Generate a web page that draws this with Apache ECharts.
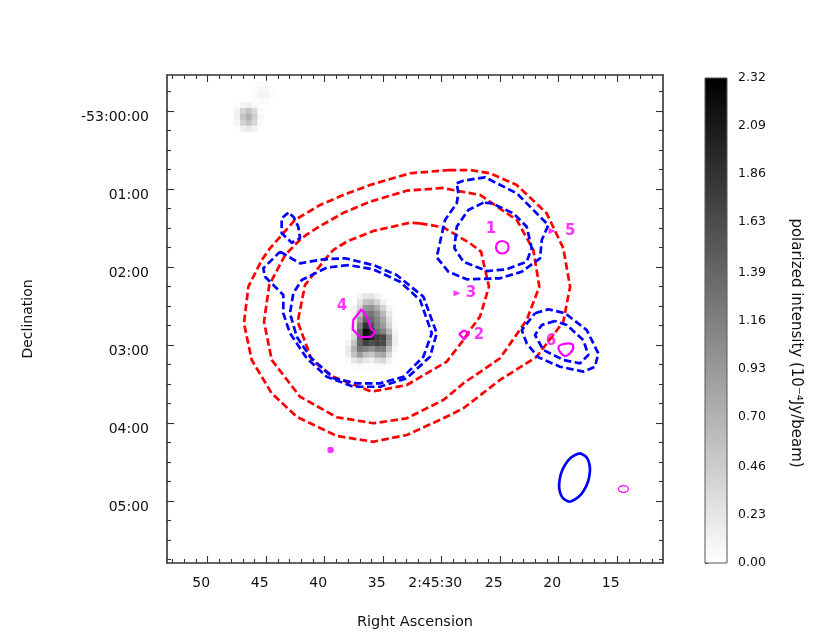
<!DOCTYPE html>
<html lang="en">
<head>
    <meta charset="UTF-8">
    <title>polarized intensity</title>
    <script src="https://cdn.jsdelivr.net/npm/echarts@6/dist/echarts.min.js"></script>
</head>
<body style="margin:0;background:#fff">
<div id="main" style="width:830px;height:640px"></div>
<script type="text/javascript">
    // x is the RA seconds past 2:45:00, y is arcsec south of -53:00:00
    var raTicks = [50, 45, 40, 35, 30, 25, 20, 15];
    var raLabels = ['50', '45', '40', '35', '2:45:30', '25', '20', '15'];
    var raMinorTicks = [53, 52, 51, 49, 48, 47, 46, 44, 43, 42, 41, 39, 38, 37, 36, 34, 33, 32, 31, 29, 28, 27, 26, 24, 23, 22, 21, 19, 18, 17, 16, 14, 13, 12];
    var decTicks = [0, 60, 120, 180, 240, 300];
    var decLabels = ['-53:00:00', '01:00', '02:00', '03:00', '04:00', '05:00'];
    var decMinorTicks = [-15, 15, 30, 45, 75, 90, 105, 135, 150, 165, 195, 210, 225, 255, 270, 285, 315, 330, 345];
    var barTicks = [0, 0.23, 0.46, 0.70, 0.93, 1.16, 1.39, 1.63, 1.86, 2.09, 2.32];
    var barRange = [[0, 2.32]];

    // grey image, three patches
    var coreRa = [38, 37.5, 37, 36.5, 36, 35.5, 35, 34.5, 34, 33.5];
    var coreDec = [142.5, 147, 151.5, 156, 160.5, 165, 169.5, 174, 178.5, 183, 187.5, 192, 196.5];
    var coreValues = [
        [0, 0, 0.1, 0.25, 0.25, 0.12, 0, 0, 0, 0],
        [0, 0, 0.25, 0.55, 0.6, 0.4, 0.15, 0.03, 0, 0],
        [0, 0.08, 0.4, 0.95, 1.0, 0.75, 0.4, 0.1, 0, 0],
        [0, 0.12, 0.6, 1.2, 1.25, 1.0, 0.65, 0.2, 0, 0],
        [0, 0.15, 0.85, 1.45, 1.35, 1.1, 0.8, 0.3, 0.03, 0],
        [0, 0.15, 1.15, 1.85, 1.6, 1.15, 0.9, 0.4, 0.05, 0],
        [0.02, 0.25, 1.4, 2.2, 2.0, 1.35, 1.15, 0.65, 0.1, 0],
        [0.05, 0.35, 1.5, 2.32, 2.05, 1.75, 1.7, 1.0, 0.15, 0],
        [0.1, 0.55, 1.4, 1.75, 1.6, 1.7, 1.65, 0.9, 0.15, 0],
        [0.2, 0.7, 1.25, 1.15, 1.0, 1.2, 1.2, 0.6, 0.08, 0],
        [0.15, 0.55, 0.9, 0.6, 0.5, 0.75, 0.8, 0.35, 0.03, 0],
        [0.03, 0.2, 0.35, 0.2, 0.15, 0.3, 0.35, 0.1, 0, 0],
        [0, 0.03, 0.05, 0.03, 0.02, 0.05, 0.05, 0, 0, 0]
    ];
    var spotRa = [47.5, 47, 46.5, 46, 45.5];
    var spotDec = [-4.5, 0, 4.5, 9, 13.5];
    var spotValues = [
        [0.03, 0.1, 0.15, 0.08, 0],
        [0.1, 0.4, 0.55, 0.35, 0.05],
        [0.12, 0.55, 0.72, 0.45, 0.07],
        [0.08, 0.4, 0.55, 0.35, 0.04],
        [0.02, 0.12, 0.18, 0.1, 0]
    ];
    var faintRa = [46, 45.5, 45, 44.5];
    var faintDec = [-21, -16.5, -12, -7.5];
    var faintValues = [
        [0, 0.02, 0.02, 0],
        [0.03, 0.08, 0.07, 0.02],
        [0.05, 0.12, 0.1, 0.03],
        [0.02, 0.05, 0.05, 0.01]
    ];

    // red contours
    var redOuter = [[29.29, 45.4], [32.71, 47.9], [36.13, 56.9], [38.41, 64.6], [40.40, 72.3], [42.54, 83.8], [44.68, 105.6], [45.38, 114.6], [46.53, 135.2], [46.90, 163.3], [46.24, 191.5], [44.53, 217.2], [42.39, 235.2], [38.97, 250], [35.85, 254.4], [32.99, 249.2], [29.86, 236.4], [28.15, 228.7], [25.02, 206.9], [21.88, 189], [19.61, 162.1], [19.03, 135.2], [19.61, 105.6], [21.03, 78.7], [23.59, 56.9], [25.87, 47.9], [27.58, 45.4]];
    var redMiddle = [[29.89, 59.2], [32.99, 61.3], [36.13, 69.8], [38.44, 78.5], [40.68, 90], [41.97, 97.7], [43.39, 110.8], [44.74, 133.8], [45.19, 162.1], [44.53, 191.5], [42.11, 219.8], [38.97, 235.6], [35.85, 240.2], [32.99, 236.4], [29.86, 222.3], [28.15, 209.5], [25.02, 190.2], [22.74, 160.8], [21.66, 135.2], [22.17, 106.9], [23.59, 83.8], [26.73, 64.6], [29.03, 60.8]];
    var redInner = [[31.85, 86.4], [29.86, 89.5], [27.58, 101.8], [26.64, 108.2], [25.96, 135.2], [26.73, 158.2], [27.58, 168.5], [28.15, 176.2], [29.57, 192.8], [32.99, 210.8], [35.98, 215.9], [39.26, 204.4], [41.11, 191.5], [42.31, 162.1], [41.68, 133.8], [39.97, 114.1], [39.26, 106.9], [38.12, 100.5], [35.85, 92.3], [32.71, 85.9]];

    // blue contours
    var blueRingOuter = [[43.82, 108.2], [42.11, 117.2], [40.12, 114.1], [38.26, 113.3], [35.85, 118.5], [33.85, 126.2], [31.57, 142.8], [30.43, 171], [31, 189], [32.99, 205.6], [35.27, 212.1], [37.56, 212.1], [39.83, 204.4], [41.54, 190.2], [42.97, 171], [43.54, 155.6], [43.54, 141.5], [45.10, 127.5], [45.25, 121]];
    var blueRingInner = [[37.98, 118.5], [39.83, 120.5], [41.97, 130], [42.68, 140.2], [42.97, 155.6], [42.39, 173.6], [41.26, 189], [39.26, 205.6], [37.26, 209.5], [35.27, 209.5], [33.28, 204.4], [31.57, 189], [30.85, 171], [31.85, 145.4], [33.56, 131.3], [35.85, 121.8]];
    var blueBlob = [[43.11, 78.2], [43.68, 82.5], [43.68, 94.1], [42.82, 101.3], [42.11, 97.9], [42.26, 89], [42.68, 81.3]];
    var blueUpperOuter = [[28.72, 55.6], [28.15, 53.6], [26.30, 51], [23.59, 63.3], [20.89, 87.7], [21.45, 99.2], [21.60, 113.3], [23.16, 123.6], [25.02, 128.7], [27.86, 129.5], [29.44, 123.6], [30.43, 112.5], [29.72, 83.8], [28.72, 71], [28.58, 63.3]];
    var blueUpperInner = [[26.44, 70.5], [27.73, 76.2], [28.72, 89], [28.92, 105.6], [28.15, 115.9], [26.15, 123.1], [24.44, 121.8], [22.74, 115.9], [22.31, 105.6], [22.74, 89], [23.88, 78.7], [25.73, 71]];
    var blueLowerOuter = [[22.03, 155.6], [20.89, 152.5], [19.46, 155.6], [17.61, 168.5], [16.62, 186.4], [16.90, 196.7], [17.90, 200.5], [19.89, 196.7], [21.74, 189.5], [22.74, 178.7], [23.16, 168.5]];
    var blueLowerInner = [[20.32, 161.5], [21.45, 164.6], [22.03, 172.3], [21.32, 183.8], [19.61, 191.5], [18.18, 194.1], [17.47, 187.7], [17.90, 176.2], [19.32, 164.6]];
    var blueBeam = [[18.22, 263.4], [17.98, 264.1], [17.60, 266.8], [17.38, 271.8], [17.33, 276], [17.35, 278.3], [17.51, 285.4], [17.86, 291.9], [18.32, 297], [18.84, 299.8], [19.08, 300.5], [19.32, 299.8], [19.70, 297.1], [19.92, 292.1], [19.97, 288], [19.95, 285.6], [19.79, 278.5], [19.44, 271.9], [18.97, 266.8], [18.46, 264.1]];

    // magenta contours and markers
    var pinkOne = [[24.85, 100], [24.42, 101.5], [24.29, 104.6], [24.42, 108.1], [24.85, 109.6], [25.23, 108.1], [25.36, 104.6], [25.23, 101.5]];
    var pinkTwo = [[28.09, 168.5], [27.67, 171.5], [28.09, 175.6], [28.5, 171.5]];
    var pinkFour = [[36.84, 152.3], [37.56, 160.8], [37.61, 167.9], [36.98, 174.1], [35.98, 173.6], [35.70, 170.2], [36.07, 167.2], [36.21, 162.1]];
    var pinkSix = [[19.89, 180], [19.18, 178.7], [18.75, 181.3], [19.03, 186.4], [19.46, 188.5], [19.89, 185.2], [20.03, 182.1]];
    var pinkBeam = [[14.91, 290.8], [14.76, 288.8], [14.48, 288.2], [14.16, 288.8], [14.05, 290.8], [14.16, 292.7], [14.48, 293.3], [14.76, 292.7]];
    var pinkArrows = [[28.69, 140.2], [20.57, 92.3]];
    var pinkDot = [[39.5, 260.8]];
    var sourceNames = ['1', '2', '3', '4', '5', '6'];
    var sourcePoints = [[25.79, 90.8], [26.81, 172.3], [27.5, 140], [38.52, 150], [19.03, 92.3], [20.66, 176.9]];

    var FONT = 'DejaVu Sans';
    var FRAME = '#333';
    var RA_MIN = 11.09, RA_MAX = 53.48, DEC_MIN = -27.7, DEC_MAX = 347.7;

    function closed(points) {
        return points.concat([points[0]]);
    }

    function addCells(out, ras, decs, values) {
        values.forEach(function (row, r) {
            row.forEach(function (v, c) {
                if (v > 0) {
                    out.push([ras[c], decs[r], v]);
                }
            });
        });
    }

    var cells = [];
    addCells(cells, coreRa, coreDec, coreValues);
    addCells(cells, spotRa, spotDec, spotValues);
    addCells(cells, faintRa, faintDec, faintValues);

    function contour(points, color, width, dash, smooth) {
        return {
            type: 'line',
            data: closed(points),
            showSymbol: false,
            symbol: 'none',
            smooth: smooth ? 0.5 : false,
            silent: true,
            animation: false,
            lineStyle: {color: color, width: width, type: dash || 'solid', cap: 'butt'}
        };
    }

    // one axis of the frame: only ticks, the labels are on the first bottom / left axis
    function frameAxis(dim, position, ticks, length, withLine) {
        var isX = dim === 'x';
        return {
            type: 'value',
            gridIndex: 0,
            position: position,
            inverse: true,
            min: isX ? RA_MIN : DEC_MIN,
            max: isX ? RA_MAX : DEC_MAX,
            splitLine: {show: false},
            axisLine: {show: withLine, onZero: false, lineStyle: {color: FRAME, width: 1.6}},
            axisTick: {show: true, inside: true, length: length, customValues: ticks, lineStyle: {color: FRAME, width: 1.1}},
            axisLabel: {show: false}
        };
    }

    var xBottom = frameAxis('x', 'bottom', raTicks, 7, true);
    xBottom.axisLabel = {
        show: true,
        customValues: raTicks,
        formatter: function (v) { return raLabels[raTicks.indexOf(v)]; },
        fontFamily: FONT, fontSize: 14, color: '#111', margin: 13,
        padding: [0, 13, 0, 0]
    };
    xBottom.name = 'Right Ascension';
    xBottom.nameLocation = 'middle';
    xBottom.nameGap = 52;
    xBottom.nameTextStyle = {fontFamily: FONT, fontSize: 14.5, color: '#111'};

    var yLeft = frameAxis('y', 'left', decTicks, 7, true);
    yLeft.axisLabel = {
        show: true,
        customValues: decTicks,
        formatter: function (v) { return decLabels[decTicks.indexOf(v)]; },
        fontFamily: FONT, fontSize: 14, color: '#111', margin: 18,
        verticalAlign: 'top', lineHeight: 12
    };
    yLeft.name = 'Declination';
    yLeft.nameLocation = 'middle';
    yLeft.nameGap = 132;
    yLeft.nameTextStyle = {fontFamily: FONT, fontSize: 14, color: '#111'};

    var series = [{
        type: 'custom',
        data: cells,
        encode: {x: 0, y: 1},
        silent: true,
        animation: false,
        renderItem: function (params, api) {
            var c = api.coord([api.value(0), api.value(1)]);
            var s = api.size([0.5, 4.5]);
            return {
                type: 'rect',
                shape: {x: c[0] - s[0] / 2, y: c[1] - s[1] / 2, width: s[0] + 0.4, height: s[1] + 0.4},
                style: {fill: api.visual('color')}
            };
        }
    }];

    // colour bar, spans barRange on its own axis
    series.push({
        type: 'custom',
        xAxisIndex: 4,
        yAxisIndex: 4,
        data: barRange,
        encode: {y: [0, 1]},
        silent: true,
        animation: false,
        renderItem: function (params, api) {
            var low = api.coord([0, api.value(0)]);
            var high = api.coord([1, api.value(1)]);
            return {
                type: 'rect',
                shape: {x: low[0], y: high[1], width: high[0] - low[0], height: low[1] - high[1]},
                style: {
                    fill: new echarts.graphic.LinearGradient(0, 1, 0, 0, [
                        {offset: 0, color: '#ffffff'},
                        {offset: 1, color: '#000000'}
                    ])
                }
            };
        }
    });

    [redInner, redMiddle, redOuter].forEach(function (p) {
        series.push(contour(p, '#ff0000', 2.7, [7.5, 3.5]));
    });
    [blueRingOuter, blueRingInner, blueBlob, blueUpperOuter, blueUpperInner, blueLowerOuter, blueLowerInner].forEach(function (p) {
        series.push(contour(p, '#0000ff', 2.7, [7.5, 3.5]));
    });
    series.push(contour(blueBeam, '#0000ff', 2.7, null, true));
    series.push(contour(pinkOne, '#ff00ff', 2.2, null, true));
    series.push(contour(pinkTwo, '#ff00ff', 2.2));
    series.push(contour(pinkFour, '#ff00ff', 2.2));
    series.push(contour(pinkSix, '#ff00ff', 2.2, null, true));
    series.push(contour(pinkBeam, '#ff00ff', 1.2, null, true));
    series.push({
        type: 'scatter', data: pinkArrows, symbol: 'triangle', symbolRotate: -90, symbolSize: [6, 7],
        itemStyle: {color: '#ff00ff'}, silent: true, animation: false
    });
    series.push({
        type: 'scatter', data: pinkDot, symbol: 'circle', symbolSize: 6.5,
        itemStyle: {color: '#ff00ff'}, silent: true, animation: false
    });
    series.push({
        type: 'scatter', data: sourcePoints, symbolSize: 1, itemStyle: {color: 'rgba(0,0,0,0)'},
        silent: true, animation: false,
        label: {
            show: true, position: 'inside',
            formatter: function (p) { return sourceNames[p.dataIndex]; },
            fontFamily: FONT, fontSize: 15, fontWeight: 'bold', color: '#ff00ff'
        }
    });

    var myChart = echarts.init(document.getElementById('main'));
    myChart.setOption({
        backgroundColor: '#fff',
        animation: false,
        grid: [
            {left: 167, top: 75, width: 496, height: 488},
            {left: 705, top: 78, width: 22, height: 485, show: true, backgroundColor: 'transparent', borderColor: '#555', borderWidth: 1, z: 10}
        ],
        xAxis: [
            xBottom,
            frameAxis('x', 'bottom', raMinorTicks, 4, false),
            frameAxis('x', 'top', raTicks, 7, true),
            frameAxis('x', 'top', raMinorTicks, 4, false),
            {type: 'value', gridIndex: 1, show: false, min: 0, max: 1}
        ],
        yAxis: [
            yLeft,
            frameAxis('y', 'left', decMinorTicks, 4, false),
            frameAxis('y', 'right', decTicks, 7, true),
            frameAxis('y', 'right', decMinorTicks, 4, false),
            {
                type: 'value', gridIndex: 1, position: 'right', min: 0, max: 2.32,
                splitLine: {show: false},
                axisLine: {show: false},
                axisTick: {show: true, length: 3, customValues: barTicks, lineStyle: {color: '#444', width: 1}},
                axisLabel: {
                    customValues: barTicks,
                    formatter: function (v) { return v.toFixed(2); },
                    fontFamily: FONT, fontSize: 12.5, color: '#111', margin: 11
                }
            }
        ],
        visualMap: {
            type: 'continuous', show: false, seriesIndex: 0, dimension: 2, min: 0, max: 2.32,
            inRange: {color: ['#ffffff', '#000000']}
        },
        graphic: [{
            type: 'text', x: 796, y: 343, rotation: -Math.PI / 2,
            style: {
                text: 'polarized intensity (10⁻⁴Jy/beam)',
                font: '15px "DejaVu Sans"', fill: '#111', align: 'center', verticalAlign: 'middle'
            }
        }],
        series: series
    });
</script>
</body>
</html>
